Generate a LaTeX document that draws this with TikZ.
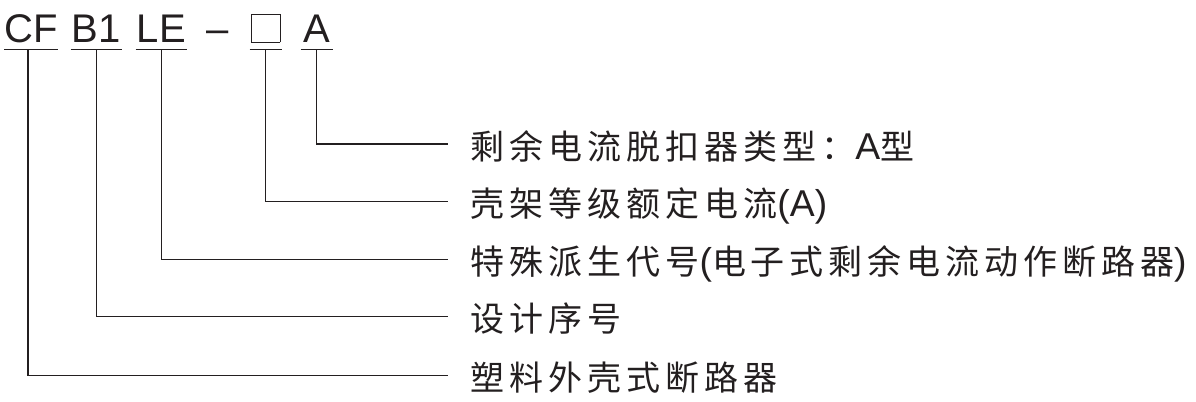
\documentclass[tikz,border=0pt]{standalone}
\usepackage{fontspec}
\setmainfont{Liberation Sans}
\newfontfamily\cjk[LetterSpace=14.5]{Noto Sans CJK SC}
\usetikzlibrary{positioning}
\definecolor{ink}{HTML}{231F20}
\setlength{\fboxsep}{0pt}
\setlength{\fboxrule}{0.6pt}
\newcommand{\latn}[1]{{\rmfamily\fontsize{28pt}{30pt}\selectfont #1}}
\tikzstyle{partname} = [inner xsep=0pt, inner ysep=0pt, text depth=5.25pt, anchor=base, text=ink, font=\fontsize{30pt}{32pt}\selectfont]
\tikzstyle{partdesc} = [anchor=west, inner xsep=17pt, inner ysep=0pt, text height=26pt, text depth=3.5pt, text=ink, font=\cjk\fontsize{25.5pt}{27pt}\selectfont]

\begin{document}
\begin{tikzpicture}[x=0.75pt, y=-0.75pt]
            \useasboundingbox (0,0) rectangle (1196,401);
            % Defining nodes
            \node[partname, minimum width=38pt] (cf) at (31.3,42) {CF};
            \node[partname, minimum width=38pt] (b1) at (96.3,42) {B1};
            \node[partname, minimum width=38pt] (le) at (161.3,42) {LE};
            \node[partname] (hyphen) at (217.5,42) {--};
            \node[partname, minimum width=23.8pt] (rate) at (265.8,42) {\textcolor{ink}{\fbox{\rule{0pt}{20.55pt}\hspace{20.55pt}}}};
            \node[partname, minimum width=23.8pt] (rcd) at (316.8,42) {A};

            \node[partdesc] (lrcd) at (448,144) {剩余电流脱扣器类型：\latn{A}型};
            \node[partdesc] (lrate) at (448,201.7) {壳架等级额定电流\latn{(A)}};
            \node[partdesc] (lle) at (448,259.7) {特殊派生代号\latn{(}电子式剩余电流动作断路器\latn{)}};
            \node[partdesc] (lb1) at (448,316.7) {设计序号};
            \node[partdesc] (lcf) at (448,375.7) {塑料外壳式断路器};

            % Drawing diagram
            \draw[ink, line width=1pt] (cf.south west) -- (cf.south east);
            \draw[ink, line width=1pt] (b1.south west) -- (b1.south east);
            \draw[ink, line width=1pt] (le.south west) -- (le.south east);
            \draw[ink, line width=1pt] (rate.south west) -- (rate.south east);
            \draw[ink, line width=1pt] (rcd.south west) -- (rcd.south east);
            \draw[ink, line width=1pt] (rcd.south) |- (lrcd.west);
            \draw[ink, line width=1pt] (rate.south) |- (lrate.west);
            \draw[ink, line width=1pt] (le.south) |- (lle.west);
            \draw[ink, line width=1pt] (b1.south) |- (lb1.west);
            \draw[ink, line width=1pt] ([xshift=-2.5pt]cf.south) |- (lcf.west);
\end{tikzpicture}
\end{document}
